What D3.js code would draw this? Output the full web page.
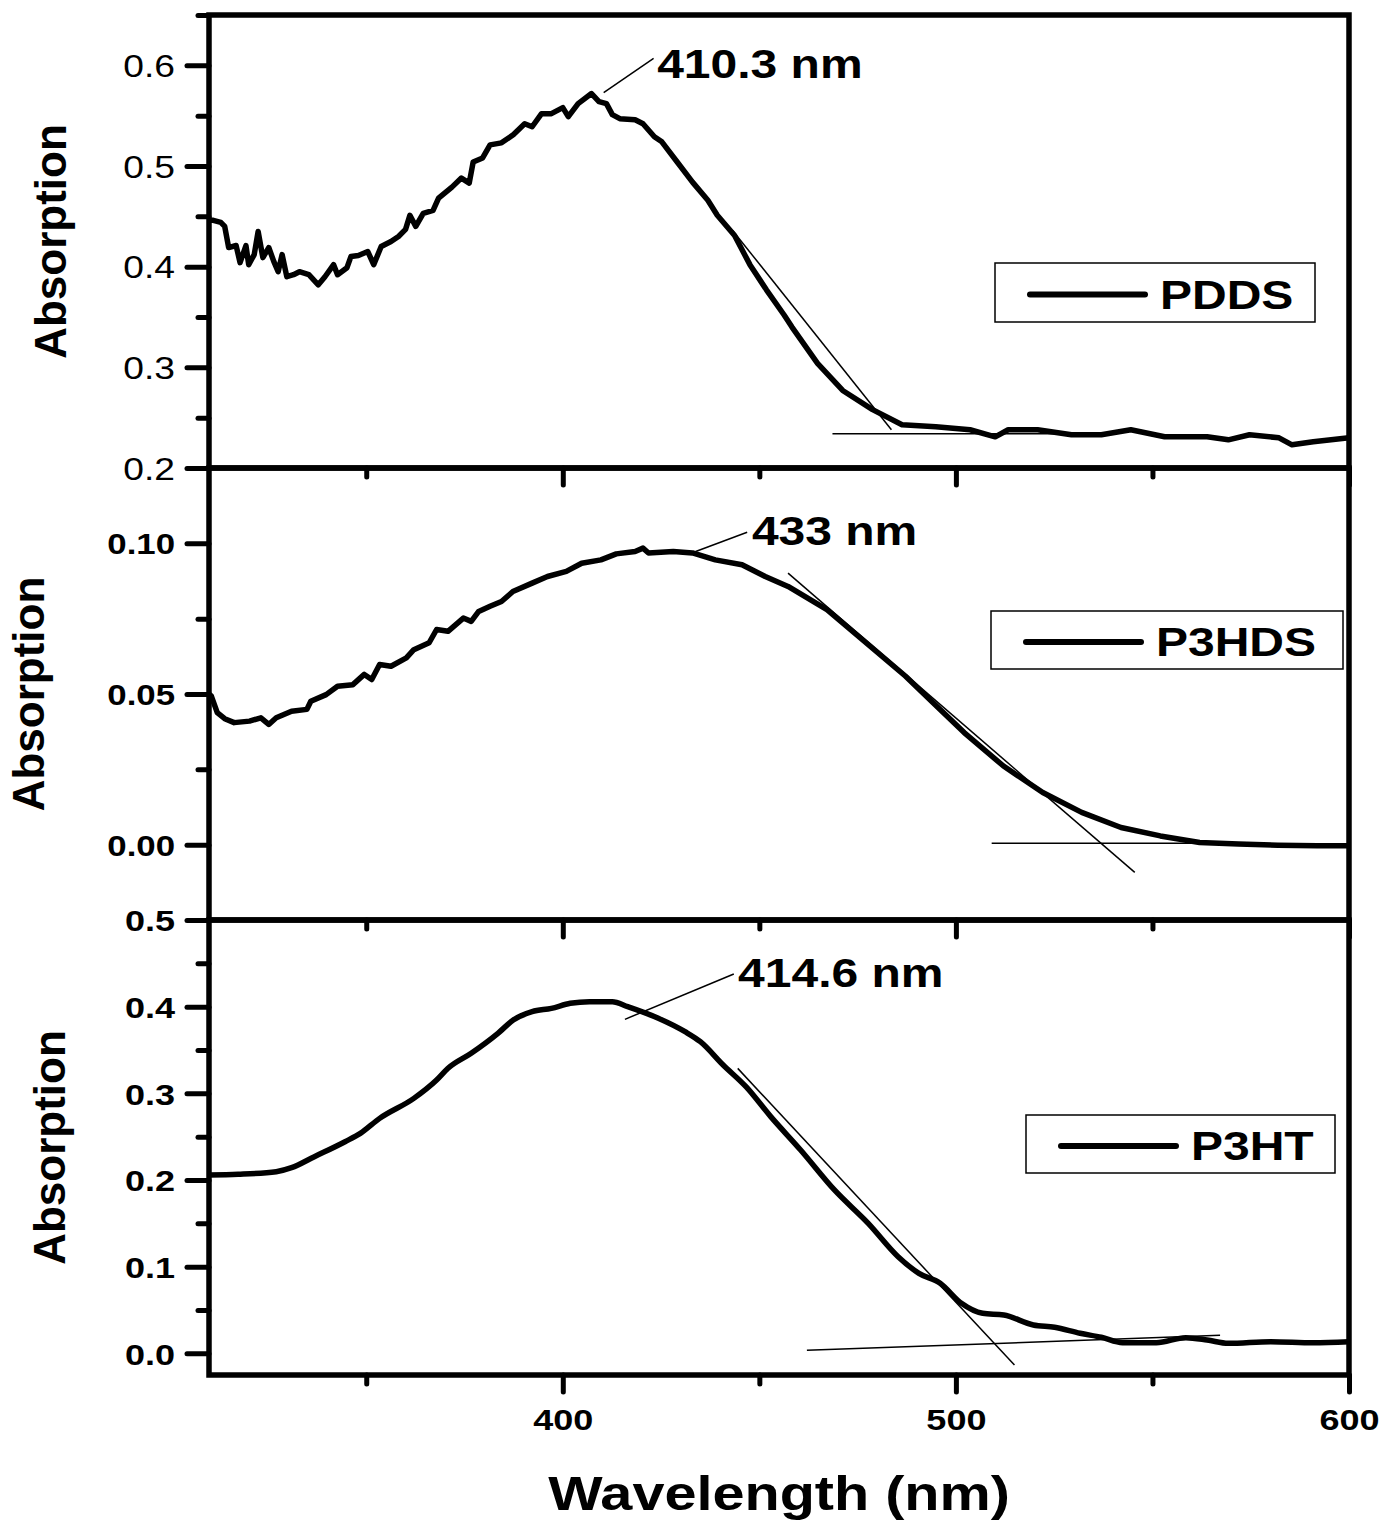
<!DOCTYPE html>
<html>
<head>
<meta charset="utf-8">
<script src="https://cdn.jsdelivr.net/npm/d3@7"></script>
<style>
  body { margin: 0; background: #fff; }
  svg { display: block; font-family: "Liberation Sans", Arial, sans-serif; }
</style>
</head>
<body>
<svg id="chart" width="1384" height="1522"></svg>
<script>
// ---- data ----
const xDomain = [310, 600];
const xMajor = [400, 500, 600];
const xMinor = [350, 450, 550];

// PDDS (top panel)
const pddsWl  = [310.3,311.1,313.0,314.0,315.0,316.9,317.9,319.4,320.1,321.5,322.5,323.7,325.2,326.5,327.6,328.6,329.8,331.5,333.0,335.4,337.8,339.5,341.7,342.7,345.1,346.1,348.0,350.4,351.9,353.8,356.3,358.2,360.0,361.1,362.6,364.5,367.0,368.4,371.8,374.2,376.2,377.2,379.6,381.5,384.4,387.4,390.3,392.2,394.6,397.1,400.0,401.4,403.9,407.3,409.2,411.1,412.6,414.5,418.4,420.4,423.3,425.2,429.1,433.0,436.9,439.3,443.7,447.6,451.8,456.3,458.3,464.8,471.2,478.8,486.3,494.9,503.6,510.0,513.3,520.8,529.4,537.0,544.5,553.1,563.9,569.3,574.7,582.2,585.5,590.9,600.0];
const pddsAbs = [0.446,0.446,0.444,0.440,0.419,0.421,0.404,0.421,0.402,0.412,0.435,0.409,0.419,0.405,0.395,0.412,0.390,0.392,0.395,0.392,0.382,0.390,0.402,0.392,0.399,0.410,0.411,0.415,0.402,0.420,0.425,0.430,0.437,0.451,0.440,0.453,0.456,0.468,0.479,0.488,0.483,0.504,0.508,0.521,0.523,0.531,0.542,0.539,0.552,0.552,0.558,0.549,0.562,0.572,0.564,0.562,0.551,0.547,0.546,0.542,0.529,0.524,0.504,0.484,0.466,0.451,0.431,0.402,0.377,0.352,0.340,0.304,0.277,0.258,0.243,0.241,0.238,0.231,0.238,0.238,0.233,0.233,0.238,0.231,0.231,0.228,0.233,0.230,0.223,0.226,0.230];
const pddsTicks = [0.2, 0.3, 0.4, 0.5, 0.6];
const pddsMinor = [0.25, 0.35, 0.45, 0.55, 0.65];
const pddsTangent = [[443.2, 0.436], [483.6, 0.238]];
const pddsBase    = [[468.6, 0.234], [525.0, 0.234]];
const pddsNote    = {tip: [410.4, 0.573], end: [423.1, 0.607], at: [424.0, 0.587], label: "410.3 nm"};

// P3HDS (middle panel)
const p3hdsWl  = [310.0,310.6,312.1,314.0,316.4,320.3,323.2,325.2,327.1,331.0,334.9,335.9,339.8,342.7,346.6,349.5,351.4,353.4,356.3,360.2,362.1,366.0,367.9,370.8,374.7,376.7,378.6,381.5,384.4,387.3,392.2,396.1,400.9,404.8,409.7,413.6,418.4,420.4,421.8,428.1,433.0,438.8,445.6,451.5,457.3,467.2,477.2,487.2,494.2,502.1,512.1,522.1,532.0,542.0,552.0,562.0,571.9,581.9,591.9,600.0];
const p3hdsAbs = [0.0500,0.0493,0.0438,0.0418,0.0405,0.0410,0.0421,0.0399,0.0421,0.0443,0.0449,0.0476,0.0498,0.0526,0.0531,0.0565,0.0548,0.0598,0.0592,0.0620,0.0647,0.0670,0.0714,0.0708,0.0752,0.0741,0.0774,0.0791,0.0807,0.0840,0.0868,0.0890,0.0907,0.0934,0.0945,0.0965,0.0973,0.0984,0.0968,0.0973,0.0968,0.0945,0.0929,0.0890,0.0857,0.0780,0.0670,0.0559,0.0471,0.0372,0.0261,0.0173,0.0107,0.0057,0.0029,0.0007,0.0002,-0.0002,-0.0004,-0.0004];
const p3hdsTicks = [0.00, 0.05, 0.10];
const p3hdsMinor = [0.025, 0.075];
const p3hdsTangent = [[457.3, 0.0901], [545.5, -0.0092]];
const p3hdsBase    = [[509.1, 0.0005], [560.0, 0.0005]];
const p3hdsNote    = {tip: [433.8, 0.0973], end: [446.9, 0.1037], at: [448.1, 0.0995], label: "433 nm"};

// P3HT (bottom panel)
const p3htWl  = [310.0,317.4,327.1,331.0,336.8,344.6,348.5,353.4,362.1,367.9,370.8,376.7,383.5,387.4,392.2,397.1,401.9,406.8,412.6,416.5,424.3,431.1,435.0,440.8,446.6,452.9,460.5,469.1,477.7,485.3,490.6,496.0,501.4,506.8,512.2,519.7,525.1,531.6,537.0,542.4,551.0,558.5,563.9,569.3,580.1,590.9,600.0];
const p3htAbs = [0.2058,0.2066,0.2096,0.2142,0.2269,0.2442,0.2538,0.2711,0.2942,0.3154,0.3289,0.3462,0.3692,0.3846,0.3942,0.3981,0.4039,0.4058,0.4058,0.4000,0.3866,0.3711,0.3596,0.3327,0.3077,0.2731,0.2346,0.1885,0.1500,0.1115,0.0923,0.0808,0.0577,0.0462,0.0442,0.0327,0.0300,0.0231,0.0185,0.0123,0.0123,0.0181,0.0154,0.0115,0.0135,0.0123,0.0135];
const p3htTicks = [0.0, 0.1, 0.2, 0.3, 0.4, 0.5];
const p3htMinor = [0.05, 0.15, 0.25, 0.35, 0.45];
const p3htTangent = [[444.5, 0.3288], [514.9, -0.0135]];
const p3htBase    = [[462.1, 0.0035], [567.2, 0.0208]];
const p3htNote    = {tip: [415.8, 0.3854], end: [443.5, 0.4377], at: [444.6, 0.4227], label: "414.6 nm"};

// ---- layout ----
const left = 209, right = 1349;
const STRETCH = 1.2;   // glyphs in the figure are wider than plain Arial
const svg = d3.select("#chart");

const x = d3.scaleLinear().domain(xDomain).range([left, right]);

const panels = [
  {name: "PDDS", wl: pddsWl, ab: pddsAbs, top: 15, bottom: 468, dom: [0.2, 0.65],
   major: pddsTicks, minor: pddsMinor, fmt: d3.format(".1f"), weight: "normal", fs: 31,
   tangent: pddsTangent, base: pddsBase, note: pddsNote, curve: d3.curveLinear,
   legend: {x: 995, y: 263, w: 320, h: 59}, titleX: 66},
  {name: "P3HDS", wl: p3hdsWl, ab: p3hdsAbs, top: 468, bottom: 920, dom: [-0.025, 0.125],
   major: p3hdsTicks, minor: p3hdsMinor, fmt: d3.format(".2f"), weight: "bold", fs: 29,
   tangent: p3hdsTangent, base: p3hdsBase, note: p3hdsNote, curve: d3.curveLinear,
   legend: {x: 991, y: 611, w: 352, h: 58}, titleX: 44},
  {name: "P3HT", wl: p3htWl, ab: p3htAbs, top: 920, bottom: 1375, dom: [-0.025, 0.5],
   major: p3htTicks, minor: p3htMinor, fmt: d3.format(".1f"), weight: "bold", fs: 30,
   tangent: p3htTangent, base: p3htBase, note: p3htNote, curve: d3.curveMonotoneX,
   legend: {x: 1026, y: 1115, w: 309, h: 58}, titleX: 65}
];

function styleTicks(g, width) {
  g.select(".domain").remove();
  g.selectAll(".tick line").attr("stroke", "#000").attr("stroke-width", width).attr("stroke-linecap", "round");
}

panels.forEach(function(p, i) {
  const y = d3.scaleLinear().domain(p.dom).range([p.bottom, p.top]);
  const g = svg.append("g").attr("class", "panel");

  // minor y ticks
  g.append("g")
    .attr("transform", "translate(" + left + ",0)")
    .call(d3.axisLeft(y).tickValues(p.minor).tickSize(11).tickFormat(""))
    .call(styleTicks, 5);

  // major y ticks with labels
  const ya = g.append("g")
    .attr("transform", "translate(" + left + ",0)")
    .call(d3.axisLeft(y).tickValues(p.major).tickSize(22).tickPadding(12).tickFormat(p.fmt))
    .call(styleTicks, 5);
  ya.selectAll(".tick text")
    .attr("x", -34 / STRETCH)
    .attr("dy", "0.36em")
    .attr("transform", "scale(" + STRETCH + ",1)")
    .style("font-size", p.fs + "px")
    .style("font-weight", p.weight)
    .style("font-family", "'Liberation Sans', Arial, sans-serif")
    .attr("fill", "#000");

  // x ticks along the bottom edge of every panel
  g.append("g")
    .attr("transform", "translate(0," + p.bottom + ")")
    .call(d3.axisBottom(x).tickValues(xMinor).tickSize(9).tickFormat(""))
    .call(styleTicks, 5);
  const xa = g.append("g")
    .attr("transform", "translate(0," + p.bottom + ")")
    .call(d3.axisBottom(x).tickValues(xMajor).tickSize(17).tickPadding(17)
      .tickFormat(i === panels.length - 1 ? d3.format("d") : ""))
    .call(styleTicks, 5);
  xa.selectAll(".tick text")
    .attr("transform", "scale(" + STRETCH + ",1)")
    .style("font-size", "30px")
    .style("font-weight", "bold")
    .style("font-family", "'Liberation Sans', Arial, sans-serif")
    .attr("fill", "#000");

  // tangent and baseline construction lines
  [p.tangent, p.base].forEach(function(seg) {
    g.append("line")
      .attr("x1", x(seg[0][0])).attr("y1", y(seg[0][1]))
      .attr("x2", x(seg[1][0])).attr("y2", y(seg[1][1]))
      .attr("stroke", "#000").attr("stroke-width", 1.5);
  });

  // spectrum
  const pts = p.wl.map(function(w, k) { return [w, p.ab[k]]; });
  g.append("path")
    .datum(pts)
    .attr("fill", "none")
    .attr("stroke", "#000")
    .attr("stroke-width", 5.5)
    .attr("stroke-linejoin", "round")
    .attr("d", d3.line().x(d => x(d[0])).y(d => y(d[1])).curve(p.curve));

  // peak annotation
  g.append("line")
    .attr("x1", x(p.note.tip[0])).attr("y1", y(p.note.tip[1]))
    .attr("x2", x(p.note.end[0])).attr("y2", y(p.note.end[1]))
    .attr("stroke", "#000").attr("stroke-width", 1.5);
  g.append("text")
    .attr("transform", "translate(" + x(p.note.at[0]) + "," + y(p.note.at[1]) + ") scale(" + STRETCH + ",1)")
    .style("font-size", "40px").style("font-weight", "bold")
    .text(p.note.label);

  // legend
  const L = p.legend;
  g.append("rect")
    .attr("x", L.x).attr("y", L.y).attr("width", L.w).attr("height", L.h)
    .attr("fill", "#fff").attr("stroke", "#000").attr("stroke-width", 1.5);
  g.append("line")
    .attr("x1", L.x + 35).attr("x2", L.x + 150)
    .attr("y1", L.y + L.h / 2 + 2).attr("y2", L.y + L.h / 2 + 2)
    .attr("stroke", "#000").attr("stroke-width", 6).attr("stroke-linecap", "round");
  g.append("text")
    .attr("transform", "translate(" + (L.x + 165) + "," + (L.y + L.h / 2 + 16) + ") scale(" + STRETCH + ",1)")
    .style("font-size", "40px").style("font-weight", "bold")
    .text(p.name);

  // y title
  g.append("text")
    .attr("transform", "translate(" + p.titleX + "," + ((p.top + p.bottom) / 2) + ") rotate(-90)")
    .attr("text-anchor", "middle")
    .style("font-size", "44px").style("font-weight", "bold")
    .text("Absorption");

  // frame
  g.append("rect")
    .attr("x", left).attr("y", p.top)
    .attr("width", right - left).attr("height", p.bottom - p.top)
    .attr("fill", "none").attr("stroke", "#000").attr("stroke-width", 5.5);
});

// x title
svg.append("text")
  .attr("transform", "translate(" + ((left + right) / 2) + ",1510) scale(" + STRETCH + ",1)")
  .attr("text-anchor", "middle")
  .style("font-size", "48px").style("font-weight", "bold")
  .text("Wavelength (nm)");
</script>
</body>
</html>
